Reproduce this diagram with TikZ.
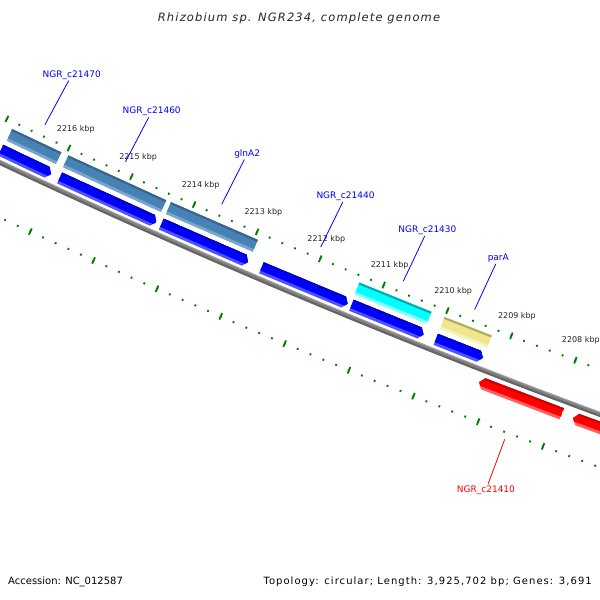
\documentclass[tikz,border=0pt]{standalone}
\usepackage{fontspec}
\setmainfont{DejaVu Sans}[ItalicFont={DejaVu Sans Oblique}]
\usepackage{tikz}

\definecolor{fwdblue}{RGB}{0,0,255}
\definecolor{fwdbluelt}{RGB}{80,80,255}
\definecolor{fwdbluedk}{RGB}{0,0,205}
\definecolor{cogsteel}{RGB}{70,130,180}
\definecolor{cogsteellt}{RGB}{120,165,205}
\definecolor{cogsteeldk}{RGB}{55,100,140}
\definecolor{cogcyan}{RGB}{0,255,255}
\definecolor{cogcyanlt}{RGB}{130,255,255}
\definecolor{cogcyandk}{RGB}{0,170,170}
\definecolor{cogkhaki}{RGB}{240,230,140}
\definecolor{cogkhakilt}{RGB}{248,242,190}
\definecolor{cogkhakidk}{RGB}{175,168,102}
\definecolor{revred}{RGB}{255,0,0}
\definecolor{revredlt}{RGB}{255,95,95}
\definecolor{revreddk}{RGB}{205,0,0}
\definecolor{tickgreen}{RGB}{0,128,0}
\definecolor{bbgray}{RGB}{128,128,128}
\definecolor{bblight}{RGB}{160,160,160}
\definecolor{bbdark}{RGB}{100,100,100}

% angles in degrees round the map centre, radii in pt
\newcommand{\headlen}{0.035}
\newcommand{\genebody}[5]{%
  \fill[#5lt] (#1:#3) -- (#2:#3) -- (#2:#4) -- (#1:#4) -- cycle;
  \fill[#5] (#1:#3) -- (#2:#3) -- (#2:{#4-3}) -- (#1:{#4-3}) -- cycle;
  \fill[#5dk] (#1:#3) -- (#2:#3) -- (#2:{#3+2}) -- (#1:{#3+2}) -- cycle;}
\newcommand{\genefwd}[5]{%
  \begin{scope}
    \clip (#1:#3) -- ({#2-\headlen}:#3) -- (#2:{(#3+#4)/2}) -- ({#2-\headlen}:#4) -- (#1:#4) -- cycle;
    \genebody{#1}{#2}{#3}{#4}{#5}
  \end{scope}}
\newcommand{\generev}[5]{%
  \begin{scope}
    \clip (#1:{(#3+#4)/2}) -- ({#1+\headlen}:#3) -- (#2:#3) -- (#2:#4) -- ({#1+\headlen}:#4) -- cycle;
    \genebody{#1}{#2}{#3}{#4}{#5}
  \end{scope}}

\tikzset{
  tickmaj/.style={draw=tickgreen, line width=1.8pt},
  tickmin/.style={draw=tickgreen, line width=1.8pt},
  kbplabel/.style={font=\fontsize{8}{9}\selectfont, text=black!85, inner sep=0pt, xshift=-2pt},
  genelabel/.style={font=\fontsize{9}{10}\selectfont, text=fwdblue, inner sep=1pt, xshift=3.5pt},
  revlabel/.style={genelabel, text=revred, xshift=-3pt},
  pinline/.style={draw=fwdblue, line width=0.8pt},
  revpin/.style={draw=revred, line width=0.8pt},
  infotext/.style={font=\fontsize{10}{12}\selectfont, inner sep=0pt},
}

\begin{document}
\begin{tikzpicture}[x=1pt, y=1pt]
  \useasboundingbox (0,0) rectangle (600,600);
  \fill[white] (0,0) rectangle (600,600);

  \begin{scope}
    \clip (0,0) rectangle (600,600);
    \begin{scope}[shift={(3185.8,7181.9)}]
      % backbone
      \draw[bbdark, line width=3pt] (244.2:7460.3) arc[start angle=244.2, end angle=250.3, radius=7460.3];
      \draw[bbgray, line width=2.5pt] (244.2:7458.4) arc[start angle=244.2, end angle=250.3, radius=7458.4];
      \draw[bblight, line width=1pt] (244.2:7457.2) arc[start angle=244.2, end angle=250.3, radius=7457.2];

      % ticks
      \foreach \m in {-10,...,48} {
        \draw[tickmin] ({245.15+(\m)*0.10606}:7416.1) -- ({245.15+(\m)*0.10606}:7418.1);
        \draw[tickmin] ({245.15+(\m)*0.10606}:7508) -- ({245.15+(\m)*0.10606}:7510);
      }
      \foreach \k in {-2,...,9} {
        \draw[tickmaj] ({245.15+(\k)*0.5303}:7413.5) -- ({245.15+(\k)*0.5303}:7420.5);
        \draw[tickmaj] ({245.15+(\k)*0.5303}:7505.5) -- ({245.15+(\k)*0.5303}:7512.5);
      }
      \foreach \p in {2208,...,2216}
        \node[kbplabel] (kbp\p) at ({245.15+(2216-\p)*0.5303}:7396) {\p\ kbp};

      % forward genes
      \genefwd{244.68}{245.11}{7442}{7454}{fwdblue}
      \genefwd{245.18}{246.00}{7442}{7454}{fwdblue}
      \genefwd{246.04}{246.77}{7442}{7454}{fwdblue}
      \genefwd{246.88}{247.60}{7442}{7454}{fwdblue}
      \genefwd{247.63}{248.23}{7442}{7454}{fwdblue}
      \genefwd{248.33}{248.72}{7442}{7454}{fwdblue}

      % COG colours
      \genebody{244.69}{245.11}{7424}{7437}{cogsteel}
      \genebody{245.17}{246.00}{7424}{7437}{cogsteel}
      \genebody{246.04}{246.77}{7424}{7437}{cogsteel}
      \genebody{247.62}{248.22}{7424}{7437}{cogcyan}
      \genebody{248.33}{248.72}{7424}{7437}{cogkhaki}

      % reverse genes
      \generev{248.76}{249.44}{7466}{7478}{revred}
      \generev{249.53}{250.40}{7466}{7478}{revred}

      % gene labels
      \coordinate (pin21470) at (244.905:7406);
      \node[genelabel] (lab21470) at (244.905:7351) {NGR\_c21470};
      \coordinate (pin21460) at (245.59:7406);
      \node[genelabel] (lab21460) at (245.59:7351) {NGR\_c21460};
      \coordinate (pinglnA2) at (246.405:7406);
      \node[genelabel] (labglnA2) at (246.405:7351) {glnA2};
      \coordinate (pin21440) at (247.24:7406);
      \node[genelabel] (lab21440) at (247.24:7351) {NGR\_c21440};
      \coordinate (pin21430) at (247.93:7406);
      \node[genelabel] (lab21430) at (247.93:7351) {NGR\_c21430};
      \coordinate (pinparA) at (248.525:7406);
      \node[genelabel] (labparA) at (248.525:7351) {parA};
      \coordinate (pin21410) at (249.10:7516);
      \node[revlabel] (lab21410) at (249.10:7570) {NGR\_c21410};

      \draw[pinline] (pin21470) -- (lab21470);
      \draw[pinline] (pin21460) -- (lab21460);
      \draw[pinline] (pinglnA2) -- (labglnA2);
      \draw[pinline] (pin21440) -- (lab21440);
      \draw[pinline] (pin21430) -- (lab21430);
      \draw[pinline] (pinparA) -- (labparA);
      \draw[revpin] (pin21410) -- (lab21410);
    \end{scope}
  \end{scope}

  \node[anchor=base, text=black!85, inner sep=0pt,
    font={\fontsize{11.5}{13}\selectfont\itshape\addfontfeatures{LetterSpace=10}}]
    (title) at (299,578) {Rhizobium sp. NGR234, complete genome};
  \node[infotext, anchor=base west] (accession) at (8,15) {Accession: NC\_012587};
  \node[infotext, anchor=base east, font={\fontsize{10}{12}\selectfont\addfontfeatures{LetterSpace=10.5}}]
    (topology) at (592,15) {Topology: circular; Length: 3,925,702 bp; Genes: 3,691};
\end{tikzpicture}
\end{document}
